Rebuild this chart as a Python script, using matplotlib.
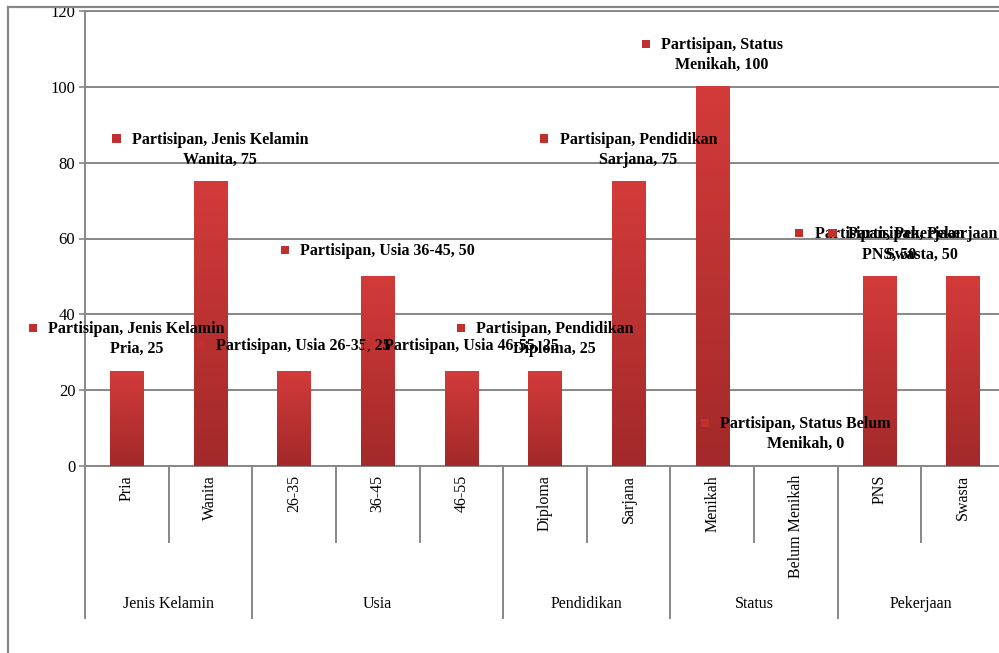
import numpy as np
import matplotlib
matplotlib.use("Agg")
import matplotlib.pyplot as plt
from matplotlib.colors import LinearSegmentedColormap
from matplotlib.transforms import blended_transform_factory
from matplotlib.offsetbox import AnnotationBbox, HPacker, TextArea, DrawingArea
from matplotlib.patches import Rectangle
from matplotlib.lines import Line2D

# data
series_name = "Partisipan"
groups = ["Jenis Kelamin", "Usia", "Pendidikan", "Status", "Pekerjaan"]
group_sizes = [2, 3, 2, 2, 2]
categories = ["Pria", "Wanita", "26-35", "36-45", "46-55", "Diploma", "Sarjana",
              "Menikah", "Belum Menikah", "PNS", "Swasta"]
values = [25, 75, 25, 50, 25, 25, 75, 100, 0, 50, 50]
# where the data labels wrap (as in the original)
label_wrap = [True, True, False, False, False, True, True, True, True, True, True]

W, H, DPI = 999, 653, 100
SERIF = "Liberation Serif"
GRAY = "#878787"

fig = plt.figure(figsize=(W / DPI, H / DPI), dpi=DPI)
fig.patch.set_facecolor("white")

# plot area in pixels: left 85, top 11, bottom 466, right ~1005 (runs past the edge)
left, top, bottom, right = 85, 11, 466, 1005
ax = fig.add_axes([left / W, 1 - bottom / H, (right - left) / W, (bottom - top) / H])

x = np.arange(len(categories))
bar_w = 0.4
cmap = LinearSegmentedColormap.from_list("bar", ["#A3292A", "#D23B39"])
grad = np.linspace(0, 1, 256).reshape(-1, 1)
for xi, v in zip(x, values):
    if v <= 0:
        continue
    ax.imshow(grad, extent=(xi - bar_w / 2, xi + bar_w / 2, 0, v), origin="lower",
              cmap=cmap, aspect="auto", zorder=3, interpolation="bilinear")

ax.set_xlim(-0.5, len(categories) - 0.5)
ax.set_ylim(0, 120)
ax.set_yticks(range(0, 121, 20))
ax.yaxis.grid(True, color=GRAY, lw=1.4)
ax.set_axisbelow(True)
ax.set_xticks([])
ax.tick_params(axis="y", length=4, width=1.2, color=GRAY, pad=3,
               labelsize=12)
for lab in ax.get_yticklabels():
    lab.set_fontfamily(SERIF)
for sp in ax.spines.values():
    sp.set_color(GRAY)
    sp.set_linewidth(1.4)

# multi-level category axis
trans = blended_transform_factory(ax.transData, fig.transFigure)
y_axis = 1 - bottom / H
y_lvl1 = 1 - 542 / H
y_lvl2 = 1 - 618 / H
for xi, cat in zip(x, categories):
    ax.text(xi, 1 - 475 / H, cat, transform=trans, rotation=90, ha="center",
            va="top", fontsize=11.5, fontfamily=SERIF)

edges = np.cumsum([0] + group_sizes)
for b in range(len(categories) + 1):
    y_end = y_lvl2 if b in edges else y_lvl1
    ax.add_line(Line2D([b - 0.5, b - 0.5], [y_axis, y_end], transform=trans,
                       color=GRAY, lw=1.4, clip_on=False))
for g, s, e in zip(groups, edges[:-1], edges[1:]):
    ax.text((s + e - 1) / 2, 1 - 604 / H, g, transform=trans, ha="center",
            va="center", fontsize=11.5, fontfamily=SERIF)

# data labels with legend key
grp_of = np.repeat(groups, group_sizes)
boxes = []
for xi, v, cat, g, wrap in zip(x, values, categories, grp_of, label_wrap):
    sep = "\n" if wrap else " "
    if g == "Status" and cat.startswith("Belum"):
        txt = f"{series_name}, {g} Belum{sep}Menikah, {v}"
    elif wrap:
        txt = f"{series_name}, {g}{sep}{cat}, {v}"
    else:
        txt = f"{series_name}, {g} {cat}, {v}"
    key = DrawingArea(6, 14, 0, 0)
    key.add_artist(Rectangle((0, 6), 6, 6, fc="#C0302E", ec="none"))
    ta = TextArea(txt, textprops=dict(fontfamily=SERIF, fontweight="bold",
                                      fontsize=11.5, multialignment="center",
                                      linespacing=1.35))
    pack = HPacker(children=[key, ta], align="top", pad=0, sep=8)
    ab = AnnotationBbox(pack, (xi, v), xybox=(0, 10), xycoords="data",
                        boxcoords="offset points", box_alignment=(0.5, 0),
                        frameon=False, pad=0, annotation_clip=False)
    ax.add_artist(ab)
    boxes.append(ab)

# keep labels inside the chart area, like the original
fig.canvas.draw()
r = fig.canvas.get_renderer()
for ab in boxes:
    bb = ab.get_window_extent(r)
    if bb.x1 > W - 2:
        dx = (W - 2 - bb.x1) * 72 / DPI
        ab.xybox = (ab.xybox[0] + dx, ab.xybox[1])

# chart area frame (clips the top of the "120" label)
fig.add_artist(Rectangle((0, 1 - 7 / H), 1, 7 / H, transform=fig.transFigure,
                         fc="white", ec="none", zorder=10))
fig.add_artist(Line2D([8 / W, 1], [1 - 7 / H, 1 - 7 / H], transform=fig.transFigure,
                      color=GRAY, lw=1.6, zorder=11))
fig.add_artist(Line2D([8 / W, 8 / W], [0, 1 - 7 / H], transform=fig.transFigure,
                      color=GRAY, lw=1.6, zorder=11))

fig.savefig("out.png", dpi=DPI)
